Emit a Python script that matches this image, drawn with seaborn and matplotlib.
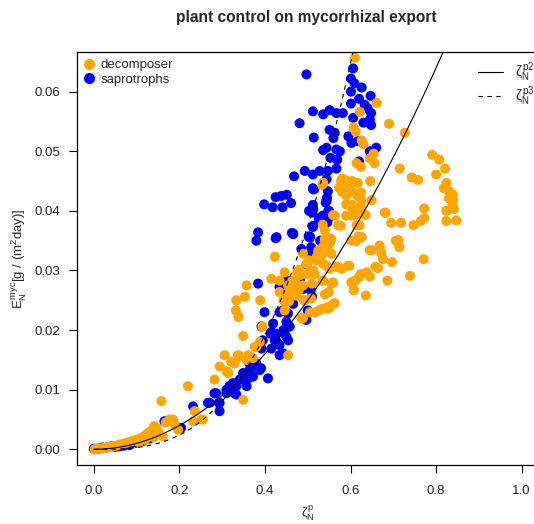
import numpy as np
import pandas as pd
import matplotlib
matplotlib.use("Agg")
import matplotlib.pyplot as plt
from matplotlib.lines import Line2D
import seaborn as sns

# ---- data ----
decomp_x = [0.002, 0.013, 0.029, 0.044, 0.060, 0.076, 0.091, 0.111, 0.123, 0.134, 0.146, 0.161, 0.141, 0.177,
            0.189, 0.197, 0.158, 0.220, 0.236, 0.232, 0.255, 0.282, 0.294, 0.310, 0.329, 0.185, 0.251,
            0.008, 0.020, 0.035, 0.052, 0.068, 0.085, 0.100, 0.118, 0.128, 0.150, 0.168, 0.105, 0.120, 0.140,
            0.306, 0.314, 0.321, 0.341, 0.349, 0.349, 0.357, 0.361, 0.372, 0.380, 0.388, 0.394, 0.333, 0.332,
            0.338, 0.353, 0.357, 0.389, 0.415, 0.423, 0.434, 0.434, 0.446, 0.443, 0.454, 0.458, 0.456, 0.470,
            0.475, 0.479, 0.482, 0.489, 0.494, 0.485, 0.503, 0.507, 0.510, 0.516, 0.519, 0.524, 0.531, 0.535,
            0.544, 0.550, 0.552, 0.544, 0.536, 0.540, 0.505, 0.528, 0.546, 0.560, 0.551, 0.566, 0.594, 0.602,
            0.607, 0.446, 0.454, 0.337, 0.376,
            0.540, 0.540, 0.548, 0.555, 0.544, 0.555, 0.534, 0.548, 0.563, 0.555, 0.571, 0.497, 0.500, 0.480,
            0.489, 0.513, 0.520, 0.528, 0.536, 0.491, 0.508, 0.489, 0.464, 0.468, 0.472, 0.450,
            0.791, 0.807, 0.821, 0.800, 0.715, 0.743, 0.758, 0.824, 0.818, 0.830, 0.838, 0.830, 0.840, 0.838,
            0.842, 0.824, 0.847, 0.824, 0.772, 0.772, 0.764, 0.747, 0.718, 0.695, 0.682, 0.646, 0.604, 0.624,
            0.616, 0.649, 0.604, 0.624, 0.635, 0.604, 0.621, 0.577, 0.563, 0.573, 0.583, 0.712, 0.714, 0.771,
            0.739, 0.649, 0.668, 0.672, 0.676, 0.697, 0.658, 0.664, 0.597, 0.626, 0.613, 0.624, 0.637, 0.645,
            0.620, 0.605, 0.611, 0.686, 0.636, 0.608, 0.579, 0.559, 0.549, 0.551, 0.535, 0.517, 0.536, 0.612,
            0.610, 0.661, 0.622, 0.690, 0.727, 0.607, 0.626, 0.630, 0.654, 0.645, 0.656, 0.614, 0.624, 0.581,
            0.534, 0.578, 0.589, 0.597, 0.617, 0.580, 0.590, 0.603, 0.626, 0.590, 0.603, 0.590, 0.615, 0.680,
            0.559, 0.571, 0.535, 0.614, 0.618, 0.602, 0.645, 0.668, 0.706, 0.540]
decomp_y = [0.0000, 0.0001, 0.0003, 0.0005, 0.0008, 0.0011, 0.0014, 0.0019, 0.0025, 0.0031, 0.0036, 0.0022, 0.0039, 0.0050,
            0.0042, 0.0033, 0.0081, 0.0106, 0.0064, 0.0047, 0.0050, 0.0117, 0.0139, 0.0131, 0.0144, 0.0050, 0.0050,
            0.0002, 0.0002, 0.0004, 0.0006, 0.0009, 0.0013, 0.0016, 0.0022, 0.0028, 0.0030, 0.0045, 0.0012, 0.0016, 0.0020,
            0.0158, 0.0128, 0.0147, 0.0156, 0.0083, 0.0190, 0.0150, 0.0158, 0.0153, 0.0172, 0.0180, 0.0206, 0.0250, 0.0233,
            0.0222, 0.0256, 0.0275, 0.0250, 0.0286, 0.0323, 0.0283, 0.0264, 0.0297, 0.0250, 0.0275, 0.0260, 0.0248, 0.0283,
            0.0297, 0.0267, 0.0292, 0.0275, 0.0250, 0.0220, 0.0317, 0.0297, 0.0278, 0.0294, 0.0317, 0.0333, 0.0325, 0.0339,
            0.0347, 0.0331, 0.0347, 0.0308, 0.0283, 0.0260, 0.0230, 0.0234, 0.0236, 0.0244, 0.0303, 0.0306, 0.0308, 0.0280,
            0.0267, 0.0233, 0.0158, 0.0158, 0.0172,
            0.0367, 0.0350, 0.0342, 0.0328, 0.0356, 0.0353, 0.0283, 0.0239, 0.0245, 0.0278, 0.0306, 0.0311, 0.0294, 0.0301,
            0.0328, 0.0300, 0.0322, 0.0330, 0.0311, 0.0250, 0.0253, 0.0220, 0.0283, 0.0270, 0.0258, 0.0258,
            0.0494, 0.0486, 0.0471, 0.0461, 0.0471, 0.0456, 0.0452, 0.0447, 0.0438, 0.0433, 0.0428, 0.0421, 0.0419, 0.0408,
            0.0403, 0.0400, 0.0384, 0.0383, 0.0404, 0.0388, 0.0383, 0.0376, 0.0380, 0.0380, 0.0397, 0.0450, 0.0450, 0.0431,
            0.0425, 0.0418, 0.0410, 0.0406, 0.0393, 0.0392, 0.0376, 0.0375, 0.0392, 0.0439, 0.0453, 0.0351, 0.0339, 0.0319,
            0.0291, 0.0334, 0.0339, 0.0329, 0.0319, 0.0314, 0.0306, 0.0304, 0.0308, 0.0356, 0.0349, 0.0294, 0.0297, 0.0290,
            0.0289, 0.0281, 0.0283, 0.0283, 0.0258, 0.0267, 0.0303, 0.0280, 0.0264, 0.0238, 0.0236, 0.0230, 0.0447, 0.0533,
            0.0657, 0.0581, 0.0566, 0.0546, 0.0531, 0.0540, 0.0518, 0.0512, 0.0496, 0.0488, 0.0480, 0.0480, 0.0474, 0.0454,
            0.0444, 0.0450, 0.0451, 0.0442, 0.0447, 0.0432, 0.0426, 0.0433, 0.0417, 0.0411, 0.0406, 0.0392, 0.0394, 0.0397,
            0.0393, 0.0376, 0.0377, 0.0376, 0.0357, 0.0350, 0.0334, 0.0342, 0.0350, 0.0353]

sapro_x = [0.000, 0.020, 0.041, 0.060, 0.083, 0.099, 0.010, 0.030, 0.050, 0.070, 0.115, 0.130,
           0.165, 0.204, 0.232, 0.267, 0.282, 0.294, 0.292, 0.310, 0.325, 0.333, 0.169,
           0.384, 0.380, 0.427, 0.466, 0.505, 0.513, 0.497, 0.384, 0.399, 0.419, 0.413, 0.423, 0.434, 0.442,
           0.454, 0.446, 0.450, 0.442, 0.466, 0.472, 0.434, 0.482, 0.489, 0.497, 0.500, 0.407, 0.388, 0.376,
           0.364, 0.361, 0.349, 0.341, 0.333, 0.329, 0.317, 0.310, 0.286, 0.294, 0.271, 0.357, 0.372, 0.391,
           0.450, 0.507, 0.510, 0.392, 0.434, 0.454, 0.458, 0.450, 0.443, 0.427, 0.415, 0.427, 0.415, 0.434,
           0.392, 0.395, 0.380, 0.364, 0.485, 0.503,
           0.497, 0.606, 0.601, 0.609, 0.626, 0.601, 0.620, 0.647, 0.601, 0.633, 0.640, 0.648, 0.645, 0.630,
           0.648, 0.606, 0.512, 0.536, 0.551, 0.567, 0.582, 0.481, 0.551, 0.563, 0.560, 0.514, 0.595, 0.602,
           0.617, 0.645, 0.660, 0.536, 0.544, 0.567, 0.575, 0.553, 0.569, 0.620, 0.493, 0.512, 0.528, 0.547,
           0.567, 0.468, 0.544, 0.512, 0.425, 0.438, 0.451, 0.398, 0.418, 0.441, 0.461, 0.545, 0.542, 0.512,
           0.503, 0.526, 0.548, 0.546, 0.512, 0.425, 0.463, 0.502, 0.529,
           0.513, 0.547, 0.544, 0.513, 0.510, 0.535, 0.527, 0.550, 0.513, 0.466, 0.505, 0.508, 0.547]
sapro_y = [0.0001, 0.0003, 0.0005, 0.0005, 0.0007, 0.0011, 0.0001, 0.0003, 0.0004, 0.0006, 0.0014, 0.0018,
           0.0047, 0.0036, 0.0072, 0.0078, 0.0094, 0.0064, 0.0078, 0.0100, 0.0111, 0.0092, 0.0047,
           0.0364, 0.0350, 0.0356, 0.0361, 0.0357, 0.0328, 0.0310, 0.0278, 0.0230, 0.0211, 0.0194, 0.0183, 0.0175, 0.0161,
           0.0183, 0.0194, 0.0214, 0.0233, 0.0244, 0.0258, 0.0272, 0.0283, 0.0269, 0.0217, 0.0233, 0.0119, 0.0133, 0.0139,
           0.0133, 0.0119, 0.0128, 0.0117, 0.0106, 0.0094, 0.0106, 0.0094, 0.0094, 0.0078, 0.0078, 0.0106, 0.0122, 0.0136,
           0.0283, 0.0267, 0.0256, 0.0206, 0.0230, 0.0228, 0.0206, 0.0189, 0.0200, 0.0194, 0.0197, 0.0181, 0.0169, 0.0158,
           0.0169, 0.0183, 0.0144, 0.0144, 0.0336, 0.0325,
           0.0629, 0.0639, 0.0622, 0.0614, 0.0607, 0.0600, 0.0588, 0.0593, 0.0580, 0.0578, 0.0572, 0.0564, 0.0553, 0.0548,
           0.0544, 0.0556, 0.0567, 0.0562, 0.0569, 0.0564, 0.0564, 0.0547, 0.0536, 0.0531, 0.0522, 0.0523, 0.0525, 0.0514,
           0.0517, 0.0500, 0.0506, 0.0502, 0.0506, 0.0503, 0.0500, 0.0489, 0.0486, 0.0483, 0.0467, 0.0461, 0.0467, 0.0467,
           0.0471, 0.0458, 0.0453, 0.0438, 0.0423, 0.0425, 0.0427, 0.0411, 0.0406, 0.0406, 0.0413, 0.0422, 0.0414, 0.0410,
           0.0400, 0.0388, 0.0400, 0.0381, 0.0373, 0.0354, 0.0363, 0.0357, 0.0350,
           0.0436, 0.0433, 0.0417, 0.0403, 0.0397, 0.0392, 0.0383, 0.0400, 0.0375, 0.0362, 0.0355, 0.0339, 0.0386]

# reference curves  E = c * zeta^p
coef_p2 = 0.1
coef_p3 = 0.3
zeta_grid = np.linspace(0, 1, 200)

x_ticks = [0.0, 0.2, 0.4, 0.6, 0.8, 1.0]
y_ticks = [0.00, 0.01, 0.02, 0.03, 0.04, 0.05, 0.06]

# ---- style ----
sns.set_style("white")
plt.rcParams['font.family'] = ['Liberation Sans', 'DejaVu Sans']
plt.rcParams['mathtext.fontset'] = 'custom'
plt.rcParams['mathtext.rm'] = 'Liberation Sans'
plt.rcParams['mathtext.it'] = 'Liberation Sans'
plt.rcParams['mathtext.bf'] = 'Liberation Sans:bold'

df = pd.concat([
    pd.DataFrame({'zeta': sapro_x, 'E': sapro_y, 'group': 'saprotrophs'}),
    pd.DataFrame({'zeta': decomp_x, 'E': decomp_y, 'group': 'decomposer'}),
], ignore_index=True)

fig = plt.figure(figsize=(5.34, 5.24), dpi=100)
ax = fig.add_axes([0.1436, 0.1126, 0.8654, 0.7887])

sns.scatterplot(data=df, x='zeta', y='E', hue='group',
                palette={'decomposer': '#FFA500', 'saprotrophs': '#0000FF'},
                s=52, linewidth=0, alpha=1, legend=False, ax=ax, zorder=2)

ax.plot(zeta_grid, coef_p2 * zeta_grid ** 2, color='black', lw=0.8, zorder=3)
ax.plot(zeta_grid, coef_p3 * zeta_grid ** 3, color='black', lw=0.8, ls=(0, (4, 4)), zorder=3)

ax.set_xlim(-0.04, 1.04)
ax.set_ylim(-0.00263, 0.0667)
ax.set_xticks(x_ticks)
ax.set_xticklabels([f'{v:.1f}' for v in x_ticks])
ax.set_yticks(y_ticks)
ax.set_yticklabels([f'{v:.2f}' for v in y_ticks])
ax.tick_params(bottom=True, left=True, direction='out', length=5.5, width=0.8,
               colors='black', labelsize=9.5, labelcolor='#222222')
ax.tick_params(axis='x', pad=9)
ax.tick_params(axis='y', pad=6)
for sp in ax.spines.values():
    sp.set_visible(True)
    sp.set_color('black')
    sp.set_linewidth(0.9)

ax.set_xlabel(r'$\zeta_N^p$', fontsize=9.5, labelpad=5)
ax.set_ylabel(r'$E_N^{myc}$[g / (m$^2$day)]', fontsize=9.5, labelpad=4)
fig.text(0.5737, 0.966, 'plant control on mycorrhizal export', ha='center', va='center',
         fontsize=11.2, fontweight='bold')

# legends
pt_handles = [Line2D([], [], marker='o', ls='none', color='#FFA500', markersize=7),
              Line2D([], [], marker='o', ls='none', color='#0000FF', markersize=7)]
leg1 = ax.legend(pt_handles, ['decomposer', 'saprotrophs'], loc='upper left',
                 bbox_to_anchor=(84 / 534, 1 - 59 / 524), bbox_transform=fig.transFigure,
                 frameon=False, fontsize=9.5, handlelength=0.8, handletextpad=0.45,
                 labelspacing=0.2, borderpad=0, borderaxespad=0)
ax.add_artist(leg1)

ln_handles = [Line2D([], [], color='black', lw=0.8),
              Line2D([], [], color='black', lw=0.8, ls=(0, (4, 4)))]
ax.legend(ln_handles, [r'$\zeta_N^{p2}$', r'$\zeta_N^{p3}$'], loc='upper left',
          bbox_to_anchor=(478 / 534, 1 - 60 / 524), bbox_transform=fig.transFigure,
          frameon=False, fontsize=10, handlelength=1.8, handletextpad=0.85,
          labelspacing=0.0, borderpad=0, borderaxespad=0)

fig.savefig('out.png', dpi=100)
